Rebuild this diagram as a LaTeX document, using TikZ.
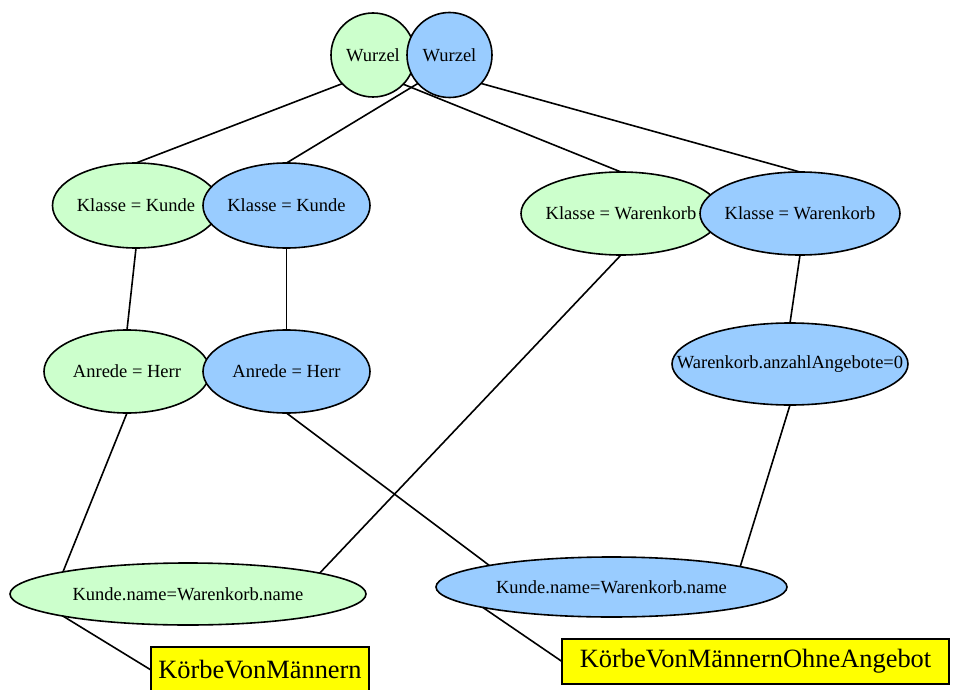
\documentclass[tikz,border=0pt]{standalone}
\usepackage{fontspec}
\setmainfont{Liberation Serif}
\usetikzlibrary{shapes.geometric}
\definecolor{gfill}{HTML}{CCFFCC}
\definecolor{bfill}{HTML}{99CCFF}
\definecolor{yfill}{HTML}{FFFF00}
\newcommand{\lbl}[1]{\makebox[0pt][c]{#1}}
\begin{document}
\begin{tikzpicture}[x=1pt,y=-1pt,
  base/.style={draw=black, line width=1.6pt, inner sep=0pt, outer sep=0pt, text=black},
  gel/.style={base, ellipse, fill=gfill, font=\fontsize{18.5}{20}\selectfont},
  bel/.style={base, ellipse, fill=bfill, font=\fontsize{18.5}{20}\selectfont},
  gcirc/.style={base, circle, fill=gfill, minimum size=84pt, font=\fontsize{18.5}{20}\selectfont},
  bcirc/.style={base, circle, fill=bfill, minimum size=85pt, font=\fontsize{18.5}{20}\selectfont},
  ybox/.style={base, rectangle, fill=yfill, font=\fontsize{26.4}{28}\selectfont},
  edge/.style={draw=black, line width=1.6pt}]
\useasboundingbox (0,0) rectangle (953,690);
\clip (0,0) rectangle (953,690);

% nodes
\node[gcirc] (WG) at (373,55) {\lbl{Wurzel}};
\node[bcirc] (WB) at (449.5,55) {\lbl{Wurzel}};

\node[gel, minimum width=167pt, minimum height=85pt] (KKG) at (136,205.5) {\lbl{Klasse = Kunde}};
\node[bel, minimum width=167pt, minimum height=85pt] (KKB) at (286.5,205.5) {\lbl{Klasse = Kunde}};

\node[gel, minimum width=200pt, minimum height=83pt] (KWG) at (621,213.5) {\lbl{Klasse = Warenkorb}};
\node[bel, minimum width=200pt, minimum height=83pt] (KWB) at (800,213.5) {\lbl{Klasse = Warenkorb}};

\node[gel, minimum width=166pt, minimum height=83pt] (AG) at (127,371.5) {\lbl{Anrede = Herr}};
\node[bel, minimum width=167pt, minimum height=83pt] (AB) at (286.5,371.5) {\lbl{Anrede = Herr}};

\node[bel, minimum width=236pt, minimum height=82pt] (AZ) at (790,364) {\lbl{Warenkorb.anzahlAngebote=0}};

\node[gel, minimum width=356pt, minimum height=62pt] (KNG) at (188,594) {\lbl{Kunde.name=Warenkorb.name}};
\node[bel, minimum width=351pt, minimum height=60pt] (KNB) at (611.5,587) {\lbl{Kunde.name=Warenkorb.name}};

\node[ybox, minimum width=218pt, minimum height=46pt] (R1) at (260,670) {\lbl{KörbeVonMännern}};
\node[ybox, minimum width=387pt, minimum height=45pt] (R2) at (755.5,661.5) {\lbl{KörbeVonMännernOhneAngebot}};

% connectors
\draw[edge] (WG.223) -- (KKG.north);
\draw[edge] (WB.222.7) -- (KKB.north);
\draw[edge] (WG.-44) -- (KWG.north);
\draw[edge] (WB.-42.6) -- (KWB.north);
\draw[edge] (KKG.south) -- (AG.north);
\draw[edge] (KKB.south) -- (AB.north);
\draw[edge] (KWB.south) -- (AZ.north);
\draw[edge] (AG.south) -- (KNG.170.5);
\draw[edge] (KWG.south) -- (KNG.9.5);
\draw[edge] (AB.south) -- (KNB.170.3);
\draw[edge] (AZ.south) -- (KNB.9.6);
\draw[edge] (KNG.190.1) -- (R1.west);
\draw[edge] (KNB.189.2) -- (R2.west);
\end{tikzpicture}
\end{document}
